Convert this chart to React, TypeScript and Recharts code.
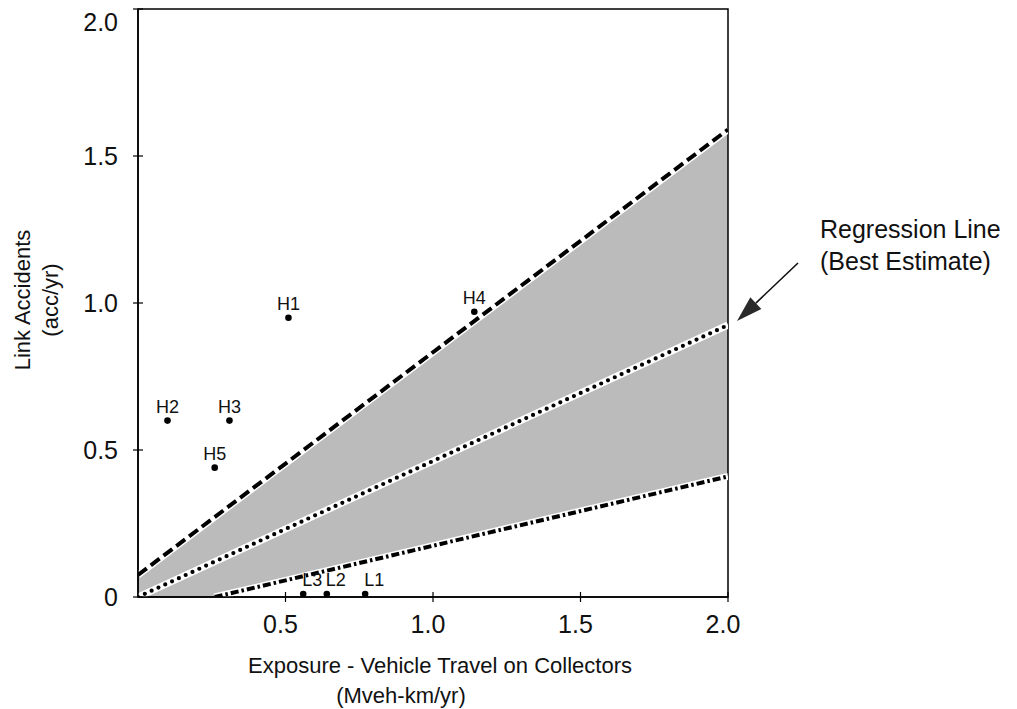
import React from 'react';
import { ComposedChart, XAxis, YAxis, Area, Line, Scatter, ReferenceArea } from 'recharts';

// Observed sites
const pointNames = ['H1', 'H2', 'H3', 'H4', 'H5', 'L1', 'L2', 'L3'];
const pointX = [0.51, 0.10, 0.31, 1.14, 0.26, 0.77, 0.64, 0.56];
const pointY = [0.95, 0.60, 0.60, 0.97, 0.44, 0.01, 0.01, 0.01];

// Confidence band (shaded)
const bandX = [0, 0.26, 2.0];
const bandLow = [0, 0, 0.41];
const bandHigh = [0.075, 0.27, 1.59];

// Upper bound (dashed)
const upperX = [0, 2.0];
const upperY = [0.075, 1.59];
// Regression line (dotted)
const regX = [0, 2.0];
const regY = [0, 0.925];
// Lower bound (dash-dot)
const lowerX = [0.26, 2.0];
const lowerY = [0, 0.41];

const xTicks = [0.5, 1.0, 1.5, 2.0];
const yTicks = [0, 0.5, 1.0, 1.5, 2.0];

const FONT = '"Liberation Sans", Arial, Helvetica, sans-serif';

const bandData = bandX.map((x, i) => ({ x, range: [bandLow[i], bandHigh[i]] }));
const upperData = upperX.map((x, i) => ({ x, y: upperY[i] }));
const regData = regX.map((x, i) => ({ x, y: regY[i] }));
const lowerData = lowerX.map((x, i) => ({ x, y: lowerY[i] }));
const pointData = pointNames.map((name, i) => ({ name, x: pointX[i], y: pointY[i] }));

const fmt = (v: number) => (v === 0 ? '0' : v.toFixed(1));

const XTick = (props: any) => {
  const { x, y, payload } = props;
  return (
    <g>
      <line x1={x} x2={x} y1={y - 5} y2={y + 5} stroke="#000" strokeWidth={1.2} />
      <text x={x - 5} y={y + 27} textAnchor="middle" dominantBaseline="central" fontSize={25} fontFamily={FONT} fill="#111">
        {fmt(payload.value)}
      </text>
    </g>
  );
};

const YTick = (props: any) => {
  const { x, y, payload } = props;
  return (
    <g>
      <line x1={x - 5} x2={x + 5} y1={y} y2={y} stroke="#000" strokeWidth={1.2} />
      <text x={x - 20} y={Math.max(y, 22)} textAnchor="end" dominantBaseline="central" fontSize={25} fontFamily={FONT} fill="#111">
        {fmt(payload.value)}
      </text>
    </g>
  );
};

const PointShape = (props: any) => {
  const { cx, cy, payload } = props;
  const dx = payload.name.startsWith('L') ? 9 : 0;
  return (
    <g>
      <circle cx={cx} cy={cy} r={3.3} fill="#000" />
      <text x={cx + dx} y={cy - 8} textAnchor="middle" fontSize={18} fontFamily={FONT} fill="#111">
        {payload.name}
      </text>
    </g>
  );
};

const arrowTail = { x: 798, y: 263 };
const arrowTip = { x: 737, y: 321 };

const Arrow = () => {
  const dx = arrowTip.x - arrowTail.x;
  const dy = arrowTip.y - arrowTail.y;
  const len = Math.sqrt(dx * dx + dy * dy);
  const ux = dx / len;
  const uy = dy / len;
  const headLen = 26;
  const halfW = 8;
  const bx = arrowTip.x - ux * headLen;
  const by = arrowTip.y - uy * headLen;
  const px = -uy;
  const py = ux;
  const pts = `${arrowTip.x},${arrowTip.y} ${bx + px * halfW},${by + py * halfW} ${bx - px * halfW},${by - py * halfW}`;
  return (
    <g>
      <line x1={arrowTail.x} y1={arrowTail.y} x2={bx} y2={by} stroke="#111" strokeWidth={1.6} />
      <polygon points={pts} fill="#2a2a2a" />
    </g>
  );
};

export default function App() {
  return (
    <div style={{ position: 'absolute', left: 0, top: 0, width: 1017, height: 709, background: '#fff', fontFamily: FONT }}>
      <ComposedChart width={1017} height={709} data={bandData} margin={{ top: 9, right: 289, bottom: 0, left: 0 }}>
        <XAxis
          type="number"
          dataKey="x"
          domain={[0, 2]}
          ticks={xTicks}
          interval={0}
          height={112}
          tickSize={0}
          tickMargin={0}
          tickLine={false}
          axisLine={{ stroke: '#000', strokeWidth: 1.5 }}
          tick={<XTick />}
          allowDataOverflow
        />
        <YAxis
          type="number"
          domain={[0, 2]}
          ticks={yTicks}
          interval={0}
          width={138}
          tickSize={0}
          tickMargin={0}
          tickLine={false}
          axisLine={{ stroke: '#000', strokeWidth: 1.5 }}
          tick={<YTick />}
          allowDataOverflow
        />
        <Area
          dataKey="range"
          type="linear"
          fill="#bbbbbb"
          fillOpacity={1}
          stroke="none"
          isAnimationActive={false}
          activeDot={false}
        />
        <ReferenceArea x1={0} x2={2} y1={0} y2={2} fill="none" fillOpacity={0} stroke="#000" strokeWidth={1.5} />
        <Line data={upperData} dataKey="y" type="linear" stroke="#fff" strokeWidth={7} dot={false} activeDot={false} isAnimationActive={false} />
        <Line data={upperData} dataKey="y" type="linear" stroke="#000" strokeWidth={4} strokeDasharray="11 5" dot={false} activeDot={false} isAnimationActive={false} />
        <Line data={regData} dataKey="y" type="linear" stroke="#fff" strokeWidth={7} dot={false} activeDot={false} isAnimationActive={false} />
        <Line data={regData} dataKey="y" type="linear" stroke="#000" strokeWidth={4.2} strokeDasharray="0 7.5" strokeLinecap="round" dot={false} activeDot={false} isAnimationActive={false} />
        <Line data={lowerData} dataKey="y" type="linear" stroke="#fff" strokeWidth={7} dot={false} activeDot={false} isAnimationActive={false} />
        <Line data={lowerData} dataKey="y" type="linear" stroke="#000" strokeWidth={4} strokeDasharray="8 3 2.5 3" dot={false} activeDot={false} isAnimationActive={false} />
        <Scatter data={pointData} dataKey="y" shape={<PointShape />} isAnimationActive={false} />
      </ComposedChart>
      <svg width={1017} height={709} style={{ position: 'absolute', left: 0, top: 0, pointerEvents: 'none' }}>
        <text transform="translate(22,300) rotate(-90)" textAnchor="middle" dominantBaseline="central" fontSize={22} fontFamily={FONT} fill="#111">
          Link Accidents
        </text>
        <text transform="translate(50,300) rotate(-90)" textAnchor="middle" dominantBaseline="central" fontSize={22} fontFamily={FONT} fill="#111">
          (acc/yr)
        </text>
        <text x={440} y={665} textAnchor="middle" dominantBaseline="central" fontSize={22} fontFamily={FONT} fill="#111">
          Exposure - Vehicle Travel on Collectors
        </text>
        <text x={401} y={695} textAnchor="middle" dominantBaseline="central" fontSize={22} fontFamily={FONT} fill="#111">
          (Mveh-km/yr)
        </text>
        <text x={820} y={229} textAnchor="start" dominantBaseline="central" fontSize={25} fontFamily={FONT} fill="#111">
          Regression Line
        </text>
        <text x={820} y={261} textAnchor="start" dominantBaseline="central" fontSize={25} fontFamily={FONT} fill="#111">
          (Best Estimate)
        </text>
        <Arrow />
      </svg>
    </div>
  );
}
